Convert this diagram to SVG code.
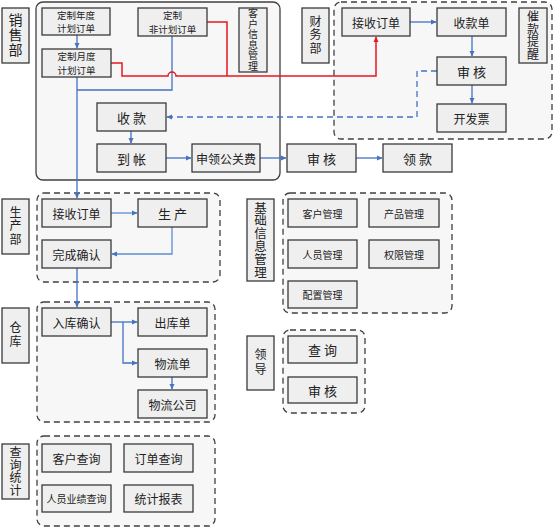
<svg xmlns="http://www.w3.org/2000/svg" width="555" height="529" viewBox="0 0 555 529">
<defs>
<style>
.bg{fill:#ffffff}
.grp{fill:#f7f7f7;stroke:#404040;stroke-width:1.3}
.dash{stroke-dasharray:6 4}
.n rect{fill:#efefef;stroke:#3a3a3a;stroke-width:1.3}
.n text{font-family:"Noto Sans CJK SC","Noto Sans",sans-serif;fill:#222;text-anchor:middle;dominant-baseline:central}
.n text.v{writing-mode:vertical-rl;dominant-baseline:central}
.t11{font-size:9.5px}
.t12{font-size:12px}
.t13{font-size:13px}
.t10{font-size:10px}
.b{fill:none;stroke:#4472c4;stroke-width:1.3}
.bl{fill:none;stroke:#5b8fd0;stroke-width:1.3}
.r{fill:none;stroke:#e8181e;stroke-width:1.5}
.bd{fill:none;stroke:#4472c4;stroke-width:1.3;stroke-dasharray:6 4}
</style>
<marker id="ab" markerWidth="6" markerHeight="6" refX="5" refY="3" orient="auto" markerUnits="userSpaceOnUse"><path d="M0,0.5 L5.5,3 L0,5.5 z" fill="#4472c4"/></marker>
<marker id="ar" markerWidth="6" markerHeight="6" refX="5" refY="3" orient="auto" markerUnits="userSpaceOnUse"><path d="M0,0.5 L5.5,3 L0,5.5 z" fill="#e8181e"/></marker>
</defs>
<rect class="bg" x="0" y="0" width="555" height="529"/>

<g id="groups">
<rect class="grp" x="36" y="2" width="244" height="178" rx="7"/>
<rect class="grp dash" x="334" y="2" width="218" height="137" rx="7"/>
<rect class="grp dash" x="37" y="193" width="183" height="89" rx="7"/>
<rect class="grp dash" x="37" y="302" width="178" height="120" rx="7"/>
<rect class="grp dash" x="283" y="193" width="169" height="120" rx="7"/>
<rect class="grp dash" x="283" y="330" width="82" height="83" rx="7"/>
<rect class="grp dash" x="37" y="436" width="178" height="90" rx="7"/>
</g>

<g id="connectors">
<path class="b" d="M77,35 V48" marker-end="url(#ab)"/>
<path class="b" d="M172,36 V90 H77"/>
<path class="b" d="M77,77 V198" marker-end="url(#ab)"/>
<path class="r" d="M111,63 H122 V76 H168 A4,4 0 0 1 176,76 H376 V37" marker-end="url(#ar)"/>
<path class="r" d="M207,22 H227 V76"/>
<path class="b" d="M410,22 H436" marker-end="url(#ab)"/>
<path class="b" d="M472,36 V56" marker-end="url(#ab)"/>
<path class="b" d="M472,85 V103" marker-end="url(#ab)"/>
<path class="bd" d="M437,71 H417 V117 H167" marker-end="url(#ab)"/>
<path class="b" d="M131,131 V143" marker-end="url(#ab)"/>
<path class="b" d="M166,158 H191" marker-end="url(#ab)"/>
<path class="b" d="M260,158 H286" marker-end="url(#ab)"/>
<path class="b" d="M356,158 H382" marker-end="url(#ab)"/>
<path class="bl" d="M111,213 H137" marker-end="url(#ab)"/>
<path class="bl" d="M172,227 V254 H112" marker-end="url(#ab)"/>
<path class="b" d="M77,268 V307" marker-end="url(#ab)"/>
<path class="b" d="M111,322 H137" marker-end="url(#ab)"/>
<path class="b" d="M123,322 V363 H137" marker-end="url(#ab)"/>
<path class="b" d="M172,377 V389" marker-end="url(#ab)"/>
</g>

<g id="lbl-sales" class="n"><rect x="2" y="8" width="27" height="55"/><text class="v" x="15.5" y="35.5" style="font-size:14px;letter-spacing:1px">销售部</text></g>
<g id="n-nian" class="n"><rect x="42" y="8" width="68" height="27"/><text class="t11" x="76" y="14.6"><tspan x="76" dy="0">定制年度</tspan><tspan x="76" dy="13.8">计划订单</tspan></text></g>
<g id="n-fei" class="n"><rect x="138" y="8" width="69" height="28"/><text class="t11" x="172.5" y="15.1"><tspan x="172.5" dy="0">定制</tspan><tspan x="172.5" dy="13.8">非计划订单</tspan></text></g>
<g id="n-kehuxinxi" class="n"><rect x="239" y="8" width="28" height="64"/><text class="v" x="253" y="40" style="font-size:10px;letter-spacing:0.5px">客户信息管理</text></g>
<g id="n-yue" class="n"><rect x="42" y="49" width="69" height="28"/><text class="t11" x="76.5" y="56.1"><tspan x="76.5" dy="0">定制月度</tspan><tspan x="76.5" dy="13.8">计划订单</tspan></text></g>
<g id="n-shoukuan" class="n"><rect x="97" y="103" width="69" height="28"/><text class="t13" x="131.5" y="117">收 款</text></g>
<g id="n-daozhang" class="n"><rect x="97" y="144" width="69" height="28"/><text class="t13" x="131.5" y="158">到 帐</text></g>
<g id="n-shenling" class="n"><rect x="192" y="144" width="68" height="28"/><text class="t12" x="226" y="158">申领公关费</text></g>
<g id="n-shenhe1" class="n"><rect x="287" y="144" width="69" height="28"/><text class="t13" x="321.5" y="158">审 核</text></g>
<g id="n-lingkuan" class="n"><rect x="383" y="144" width="69" height="28"/><text class="t13" x="417.5" y="158">领 款</text></g>

<g id="lbl-finance" class="n"><rect x="302" y="8" width="27" height="55"/><text class="v" x="315.5" y="35.5" style="font-size:12px;letter-spacing:1.5px">财务部</text></g>
<g id="n-jieshou1" class="n"><rect x="342" y="8" width="68" height="28"/><text class="t12" x="376" y="22">接收订单</text></g>
<g id="n-shoukuandan" class="n"><rect x="437" y="8" width="69" height="28"/><text class="t12" x="471.5" y="22">收款单</text></g>
<g id="n-cuikuan" class="n"><rect x="519" y="8" width="28" height="55"/><text class="v" x="533" y="35.5" style="font-size:12px;letter-spacing:0.5px">催款提醒</text></g>
<g id="n-shenhe2" class="n"><rect x="437" y="57" width="69" height="28"/><text class="t13" x="471.5" y="71">审 核</text></g>
<g id="n-kaifapiao" class="n"><rect x="437" y="104" width="69" height="28"/><text class="t12" x="471.5" y="118">开发票</text></g>

<g id="lbl-prod" class="n"><rect x="2" y="199" width="27" height="55"/><text class="v" x="15.5" y="226.5" style="font-size:12px;letter-spacing:1.5px">生产部</text></g>
<g id="n-jieshou2" class="n"><rect x="42" y="199" width="69" height="28"/><text class="t12" x="76.5" y="213">接收订单</text></g>
<g id="n-shengchan" class="n"><rect x="138" y="199" width="69" height="28"/><text class="t13" x="172.5" y="213">生 产</text></g>
<g id="n-wancheng" class="n"><rect x="42" y="240" width="69" height="28"/><text class="t12" x="76.5" y="254">完成确认</text></g>

<g id="lbl-store" class="n"><rect x="2" y="308" width="27" height="55"/><text class="v" x="15.5" y="335.5" style="font-size:12px;letter-spacing:2px">仓库</text></g>
<g id="n-ruku" class="n"><rect x="42" y="308" width="69" height="28"/><text class="t12" x="76.5" y="322">入库确认</text></g>
<g id="n-chuku" class="n"><rect x="138" y="308" width="69" height="28"/><text class="t12" x="172.5" y="322">出库单</text></g>
<g id="n-wuliudan" class="n"><rect x="138" y="349" width="69" height="28"/><text class="t12" x="172.5" y="363">物流单</text></g>
<g id="n-wuliugongsi" class="n"><rect x="138" y="390" width="69" height="28"/><text class="t12" x="172.5" y="404">物流公司</text></g>

<g id="lbl-basic" class="n"><rect x="247" y="199" width="27" height="82"/><text class="v" x="260.5" y="240" style="font-size:12.5px;letter-spacing:0.3px">基础信息管理</text></g>
<g id="n-kehuguanli" class="n"><rect x="288" y="199" width="69" height="28"/><text class="t10" x="322.5" y="213">客户管理</text></g>
<g id="n-chanpin" class="n"><rect x="369" y="199" width="70" height="28"/><text class="t10" x="404" y="213">产品管理</text></g>
<g id="n-renyuan" class="n"><rect x="288" y="240" width="69" height="28"/><text class="t10" x="322.5" y="254">人员管理</text></g>
<g id="n-quanxian" class="n"><rect x="369" y="240" width="70" height="28"/><text class="t10" x="404" y="254">权限管理</text></g>
<g id="n-peizhi" class="n"><rect x="288" y="281" width="69" height="27"/><text class="t10" x="322.5" y="294.5">配置管理</text></g>

<g id="lbl-leader" class="n"><rect x="247" y="336" width="27" height="54"/><text class="v" x="260.5" y="363" style="font-size:12px;letter-spacing:3px">领导</text></g>
<g id="n-chaxun" class="n"><rect x="288" y="336" width="69" height="27"/><text class="t13" x="322.5" y="349.5">查 询</text></g>
<g id="n-shenhe3" class="n"><rect x="288" y="377" width="69" height="26"/><text class="t13" x="322.5" y="390">审 核</text></g>

<g id="lbl-query" class="n"><rect x="2" y="444" width="27" height="55"/><text class="v" x="15.5" y="471.5" style="font-size:12px;letter-spacing:0.5px">查询统计</text></g>
<g id="n-kehuchaxun" class="n"><rect x="42" y="444" width="69" height="28"/><text class="t12" x="76.5" y="458">客户查询</text></g>
<g id="n-dingdan" class="n"><rect x="124" y="444" width="69" height="28"/><text class="t12" x="158.5" y="458">订单查询</text></g>
<g id="n-yeji" class="n"><rect x="42" y="485" width="69" height="27"/><text class="t10" x="76.5" y="498.5">人员业绩查询</text></g>
<g id="n-baobiao" class="n"><rect x="124" y="485" width="69" height="27"/><text class="t12" x="158.5" y="498.5">统计报表</text></g>
</svg>
